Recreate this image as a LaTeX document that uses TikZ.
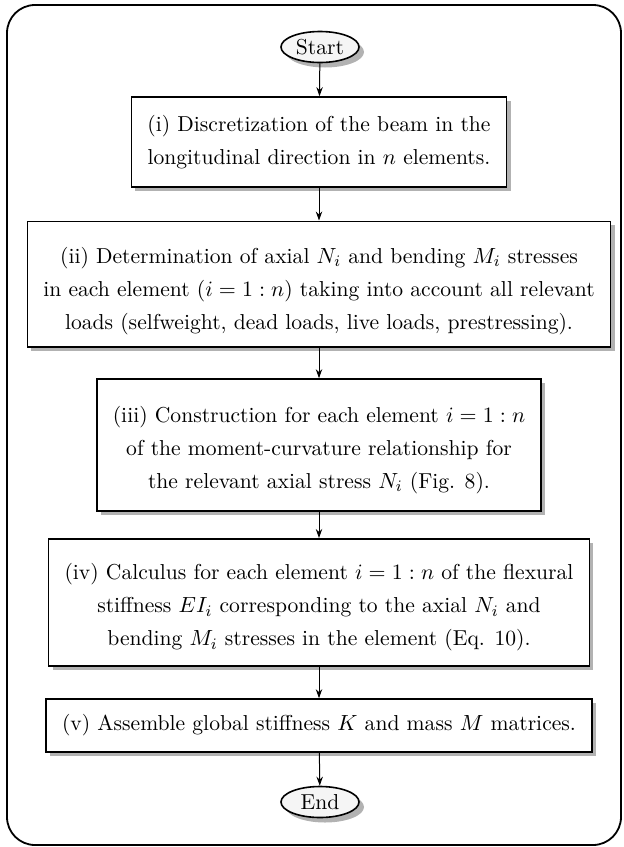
\documentclass[tikz,border=0pt]{standalone}
\usetikzlibrary{shapes.geometric,shadows,arrows.meta}
\newcommand{\topstrut}[1]{\rule{0pt}{#1}}
\begin{document}
\begin{tikzpicture}[x=0.5pt,y=-0.5pt,
  every node/.style={font=\fontsize{10.8}{16.5}\selectfont},
  procbox/.style={draw, line width=0.8pt, fill=white, align=center, inner xsep=8pt, inner ysep=7.5pt,
    drop shadow={shadow xshift=2pt, shadow yshift=-2pt, fill=black, opacity=0.3}},
  term/.style={draw, ellipse, line width=0.8pt, fill=gray!8, minimum width=39pt, minimum height=15.5pt, inner sep=0pt,
    drop shadow={shadow xshift=2.5pt, shadow yshift=-2.5pt, fill=black, opacity=0.3}},
  flow/.style={line width=0.5pt, -{Stealth[length=4.5pt,width=3.2pt]}}
]
\useasboundingbox (0,0) rectangle (624,847);
\draw[line width=0.9pt, rounded corners=14pt] (7,5) rectangle (621,845);

\node[term] (start) at (320,47) {Start};
\node[procbox, minimum height=45pt] (b1) at (319,142) {(i) Discretization of the beam in the\\ longitudinal direction in $n$ elements.};
\node[procbox, minimum height=62pt, inner ysep=6pt] (b2) at (319,284) {\topstrut{15pt}(ii) Determination of axial $N_i$ and bending $M_i$ stresses\\ in each element ($i=1:n$) taking into account all relevant\\ loads (selfweight, dead loads, live loads, prestressing).};
\node[procbox, minimum height=66pt] (b3) at (319,445) {\topstrut{13pt}(iii) Construction for each element $i=1:n$\\ of the moment-curvature relationship for\\ the relevant axial stress $N_i$ (Fig. 8).};
\node[procbox, minimum height=61.5pt] (b4) at (319,602.5) {\topstrut{13pt}(iv) Calculus for each element $i=1:n$ of the flexural\\ stiffness $EI_i$ corresponding to the axial $N_i$ and\\ bending $M_i$ stresses in the element (Eq. 10).};
\node[procbox, minimum height=26.5pt] (b5) at (319,725.5) {(v) Assemble global stiffness $K$ and mass $M$ matrices.};
\node[term] (end) at (320,802) {End};

\draw[flow] (start) -- (b1);
\draw[flow] (b1) -- (b2);
\draw[flow] (b2) -- (b3);
\draw[flow] (b3) -- (b4);
\draw[flow] (b4) -- (b5);
\draw[flow] (b5) -- (end);
\end{tikzpicture}
\end{document}
